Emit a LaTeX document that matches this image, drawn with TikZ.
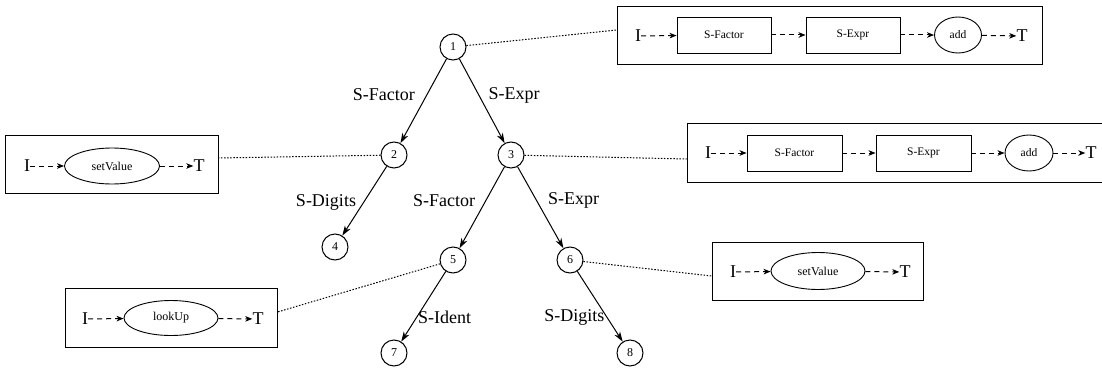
\documentclass[tikz,border=0pt]{standalone}
\usepackage{fontspec}
\setmainfont{Liberation Serif}
\usetikzlibrary{arrows.meta,shapes.geometric}
\newcommand\edgefont{\fontsize{18}{20}\selectfont}
\newcommand\numfont{\fontsize{12}{14}\selectfont}
\newcommand\opfont{\fontsize{11.5}{13}\selectfont}
\begin{document}
\begin{tikzpicture}[x=1pt,y=-1pt,
  vertex/.style={circle,draw,minimum size=26pt,inner sep=0pt,font=\numfont,line width=1pt},
  tree/.style={line width=1pt,-{Stealth[length=10pt,width=6.5pt,inset=3pt]}},
  lbl/.style={font=\edgefont,inner sep=3.33pt},
  frame/.style={draw,rectangle,line width=0.9pt,inner sep=0pt},
  opbox/.style={draw,rectangle,line width=0.9pt,minimum width=94pt,minimum height=36pt,inner sep=0pt,font=\opfont},
  opell/.style={draw,ellipse,line width=0.9pt,minimum height=36pt,inner sep=0pt,font=\opfont},
  term/.style={font=\edgefont,inner sep=0pt},
  flow/.style={line width=1pt,dash pattern=on 5pt off 4pt,-{Stealth[length=7pt,width=5.5pt,inset=2pt]}},
  link/.style={line width=1pt,dash pattern=on 1.5pt off 1.6pt}]

\useasboundingbox (0,0) rectangle (1102,369);
\clip (0,0) rectangle (1102,369);
\fill[white] (0,0) rectangle (1102,369);

% ---- derivation tree ----
\node[vertex] (n1) at (453,47)  {1};
\node[vertex] (n2) at (394,155) {2};
\node[vertex] (n3) at (511,155) {3};
\node[vertex] (n4) at (335,247) {4};
\node[vertex] (n5) at (453,260) {5};
\node[vertex] (n6) at (570,260) {6};
\node[vertex] (n7) at (394,353) {7};
\node[vertex] (n8) at (630,353) {8};

\draw[tree] (n1) -- node[lbl,pos=0.43,left=8pt] {S-Factor} (n2);
\draw[tree] (n1) -- node[lbl,pos=0.43,right=6pt] {S-Expr} (n3);
\draw[tree] (n2) -- node[lbl,pos=0.515,left=4pt] {S-Digits} (n4);
\draw[tree] (n3) -- node[lbl,pos=0.41,left=7pt] {S-Factor} (n5);
\draw[tree] (n3) -- node[lbl,pos=0.41,right=8pt] {S-Expr} (n6);
\draw[tree] (n5) -- node[lbl,pos=0.66,right=-2pt] {S-Ident} (n7);
\draw[tree] (n6) -- node[lbl,pos=0.66,left=-1pt] {S-Digits} (n8);

% ---- action frame of node 1 ----
\node[frame,minimum width=425pt,minimum height=58pt] (fA) at (829.5,35) {};
\node[term] (iA) at (638,36) {I};
\node[opbox] (sfA) at (724,35) {S-Factor};
\node[opbox] (seA) at (853,35) {S-Expr};
\node[opell,minimum width=47pt] (adA) at (958,35) {add};
\node[term] (tA) at (1022,36) {T};
\draw[flow] (iA) -- (sfA);
\draw[flow] (sfA) -- (seA);
\draw[flow] (seA) -- (adA);
\draw[flow] (adA) -- (tA);

% ---- action frame of node 3 ----
\node[frame,minimum width=433pt,minimum height=59pt] (fC) at (903.5,152.5) {};
\node[term] (iC) at (708,153) {I};
\node[opbox,minimum width=95pt] (sfC) at (794.5,153) {S-Factor};
\node[opbox,minimum width=95pt] (seC) at (923.5,153) {S-Expr};
\node[opell,minimum width=48pt] (adC) at (1029,153) {add};
\node[term] (tC) at (1091,153) {T};
\draw[flow] (iC) -- (sfC);
\draw[flow] (sfC) -- (seC);
\draw[flow] (seC) -- (adC);
\draw[flow] (adC) -- (tC);

% ---- action frame of node 2 ----
\node[frame,minimum width=213pt,minimum height=58pt] (fB) at (111.5,164) {};
\node[term] (iB) at (27,166) {I};
\node[opell,minimum width=95pt] (svB) at (112,166) {\fontsize{12}{14}\selectfont setValue};
\node[term] (tB) at (199,166) {T};
\draw[flow] (iB) -- (svB);
\draw[flow] (svB) -- (tB);

% ---- action frame of node 5 ----
\node[frame,minimum width=212pt,minimum height=59pt] (fD) at (171,317.5) {};
\node[term] (iD) at (85,319) {I};
\node[opell,minimum width=94pt,minimum height=35pt] (luD) at (171,318) {\fontsize{12}{14}\selectfont lookUp};
\node[term] (tD) at (258,319) {T};
\draw[flow] (iD) -- (luD);
\draw[flow] (luD) -- (tD);

% ---- action frame of node 6 ----
\node[frame,minimum width=211pt,minimum height=58pt] (fE) at (817.5,271) {};
\node[term] (iE) at (733,272) {I};
\node[opell,minimum width=94pt,minimum height=37pt] (svE) at (818,271) {\fontsize{12}{14}\selectfont setValue};
\node[term] (tE) at (905,272) {T};
\draw[flow] (iE) -- (svE);
\draw[flow] (svE) -- (tE);

% ---- links from tree nodes to their frames ----
\draw[link] (n1) -- ([yshift=5pt]fA.west);
\draw[link] (n2) -- ([yshift=6pt]fB.east);
\draw[link] (n3) -- ([yshift=-6.5pt]fC.west);
\draw[link] (n5) -- ([yshift=5.5pt]fD.east);
\draw[link] (n6) -- ([yshift=-5pt]fE.west);
\end{tikzpicture}
\end{document}
